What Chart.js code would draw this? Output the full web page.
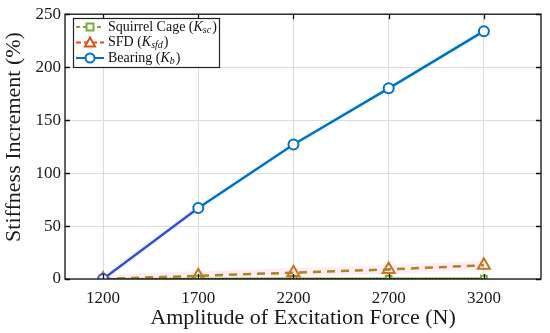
<!DOCTYPE html>
<html>
<head>
<meta charset="utf-8">
<script src="https://cdn.jsdelivr.net/npm/chart.js@4/dist/chart.umd.min.js"></script>
<style>
  html, body { margin: 0; padding: 0; background: #fff; }
  #wrap { width: 550px; height: 333px; }
</style>
</head>
<body>
<div id="wrap"><canvas id="stiffChart" width="550" height="333"></canvas></div>
<script>
const forces = [1200, 1700, 2200, 2700, 3200];
const squirrelCage = [0, 0.3, 0.4, 0.5, 0.5];
const sfd = [0, 3, 6, 9, 13];
const bearing = [0, 67, 127, 180, 234];
const yTicks = [0, 50, 100, 150, 200, 250];
const yTitle = 'Stiffness Increment (%)';

const serif = '"Liberation Serif", serif';
const pts = (arr) => forces.map((f, i) => ({ x: f, y: arr[i] }));

// inward ticks on all four sides, y title + MATLAB-style legend
const boxPlugin = {
  id: 'boxPlugin',
  afterDraw(chart) {
    const { ctx, chartArea: a, scales } = chart;
    ctx.save();
    ctx.strokeStyle = '#111';
    ctx.lineWidth = 1.3;
    ctx.beginPath();
    forces.forEach((f) => {
      const x = Math.round(scales.x.getPixelForValue(f)) + 0.5;
      ctx.moveTo(x, a.bottom); ctx.lineTo(x, a.bottom - 5);
      ctx.moveTo(x, a.top); ctx.lineTo(x, a.top + 5);
    });
    yTicks.forEach((v) => {
      const y = Math.round(scales.y.getPixelForValue(v)) + 0.5;
      ctx.moveTo(a.left, y); ctx.lineTo(a.left + 5, y);
      ctx.moveTo(a.right, y); ctx.lineTo(a.right - 5, y);
    });
    ctx.stroke();
    ctx.strokeRect(a.left, a.top, a.right - a.left, a.bottom - a.top);

    // y title (sits a bit above the centre in the original)
    ctx.save();
    ctx.translate(14, 137);
    ctx.rotate(-Math.PI / 2);
    ctx.fillStyle = '#1a1a1a';
    ctx.font = '22px ' + serif;
    ctx.textAlign = 'center';
    ctx.textBaseline = 'middle';
    ctx.fillText(yTitle, 0, 0);
    ctx.restore();

    // legend
    const lx = 73, ly = 18, lw = 146, lh = 49;
    ctx.fillStyle = '#fff';
    ctx.fillRect(lx, ly, lw, lh);
    ctx.lineWidth = 1.2;
    ctx.strokeStyle = '#222';
    ctx.strokeRect(lx + 0.5, ly + 0.5, lw, lh);
    const rows = [
      { name: 'Squirrel Cage (', sub: 'sc', color: '#77AC30', dash: [4, 3], mark: 'rect' },
      { name: 'SFD (', sub: 'sfd', color: '#D95319', dash: [5, 3], mark: 'tri' },
      { name: 'Bearing (', sub: 'b', color: '#0072BD', dash: [], mark: 'circ' }
    ];
    rows.forEach((r, i) => {
      const y = ly + 9 + i * 15.5;
      ctx.strokeStyle = r.color;
      ctx.lineWidth = 2;
      ctx.setLineDash(r.dash);
      ctx.beginPath(); ctx.moveTo(76, y); ctx.lineTo(104, y); ctx.stroke();
      ctx.setLineDash([]);
      ctx.fillStyle = '#fff';
      ctx.beginPath();
      if (r.mark === 'rect') ctx.rect(86.5, y - 3.5, 7, 7);
      if (r.mark === 'tri') { ctx.moveTo(90, y - 5); ctx.lineTo(95, y + 4); ctx.lineTo(85, y + 4); ctx.closePath(); }
      if (r.mark === 'circ') ctx.arc(90, y, 4.5, 0, Math.PI * 2);
      ctx.fill(); ctx.stroke();
      ctx.fillStyle = '#111';
      ctx.textBaseline = 'middle';
      ctx.textAlign = 'left';
      let tx = 108;
      ctx.font = '14px ' + serif;
      ctx.fillText(r.name, tx, y);
      tx += ctx.measureText(r.name).width;
      ctx.font = 'italic 14px ' + serif;
      ctx.fillText('K', tx, y);
      tx += ctx.measureText('K').width;
      ctx.font = 'italic 10px ' + serif;
      ctx.fillText(r.sub, tx, y + 3);
      tx += ctx.measureText(r.sub).width + 1;
      ctx.font = '14px ' + serif;
      ctx.fillText(')', tx, y);
    });
    ctx.restore();
  }
};

new Chart(document.getElementById('stiffChart'), {
  type: 'line',
  data: {
    datasets: [
      {
        label: 'SFD glow',
        data: pts(sfd),
        order: 10,
        borderColor: 'rgba(255, 200, 225, 0.35)',
        borderWidth: 9,
        pointRadius: 0,
        fill: false
      },
      {
        label: 'Bearing glow',
        data: pts(bearing),
        order: 10,
        borderColor: 'rgba(200, 240, 250, 0.25)',
        borderWidth: 6,
        pointRadius: 0,
        fill: false
      },
      {
        label: 'Squirrel Cage (Ksc)',
        data: pts(squirrelCage),
        order: 4,
        borderColor: '#77AC30',
        borderWidth: 2,
        pointStyle: 'rect',
        pointRadius: 4,
        pointBorderWidth: 2,
        pointBackgroundColor: '#fff',
        fill: false
      },
      {
        label: 'Squirrel Cage dots',
        data: pts(squirrelCage),
        order: 3,
        borderColor: '#222',
        borderWidth: 1,
        borderDash: [1.5, 2],
        pointRadius: 0,
        fill: false
      },
      {
        label: 'SFD (Ksfd)',
        data: pts(sfd),
        order: 2,
        borderColor: '#a8861c',
        borderWidth: 2.5,
        borderDash: [8, 6],
        pointStyle: 'triangle',
        pointRadius: 7,
        pointBorderWidth: 2,
        pointBorderColor: '#c8741e',
        pointBackgroundColor: 'rgba(255,255,255,0)',
        fill: false
      },
      {
        label: 'Bearing (Kb)',
        data: pts(bearing),
        order: 1,
        borderColor: '#0072BD',
        borderWidth: 2.5,
        segment: { borderColor: (c) => c.p0DataIndex === 0 ? '#3a4fc6' : undefined },
        pointStyle: 'circle',
        pointRadius: 5,
        pointBorderWidth: 2,
        pointBorderColor: ['#3a4fc6', '#0072BD', '#0072BD', '#0072BD', '#0072BD'],
        pointBackgroundColor: '#fff',
        fill: false
      }
    ]
  },
  options: {
    responsive: false,
    animation: false,
    layout: { padding: { top: 11, right: 7, left: 0, bottom: 0 } },
    plugins: { legend: { display: false }, tooltip: { enabled: false } },
    scales: {
      x: {
        type: 'linear',
        min: 1000,
        max: 3500,
        afterBuildTicks: (s) => { s.ticks = forces.map((v) => ({ value: v })); },
        afterFit: (s) => { s.height = 54; },
        grid: { color: '#dcdcdc', drawTicks: false },
        border: { display: false },
        ticks: { color: '#1a1a1a', padding: 9, font: { family: serif, size: 17 }, callback: (v) => String(v) },
        title: { display: true, text: 'Amplitude of Excitation Force (N)', color: '#1a1a1a', padding: { top: 0, bottom: 2 }, font: { family: serif, size: 22 } }
      },
      y: {
        min: 0,
        max: 250,
        afterBuildTicks: (s) => { s.ticks = yTicks.map((v) => ({ value: v })); },
        afterFit: (s) => { s.width = 65; },
        grid: { color: '#dcdcdc', drawTicks: false },
        border: { display: false },
        ticks: { color: '#1a1a1a', padding: 4, font: { family: serif, size: 17 }, callback: (v) => String(v) },
        title: { display: false }
      }
    }
  },
  plugins: [boxPlugin]
});
</script>
</body>
</html>
